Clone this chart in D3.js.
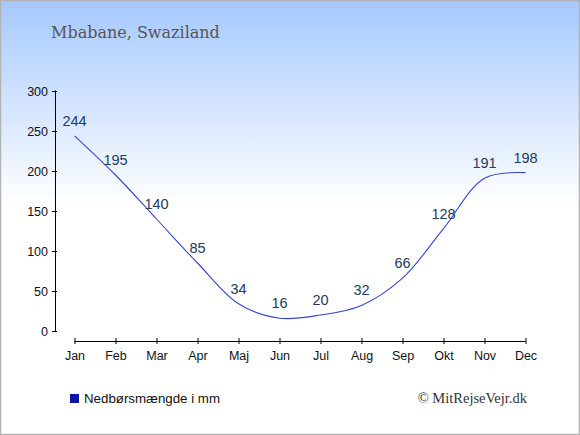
<!DOCTYPE html>
<html>
<head>
<meta charset="utf-8">
<script src="https://cdn.jsdelivr.net/npm/d3@7"></script>
<style>
html,body{margin:0;padding:0;background:#fff;}
svg{display:block;}
</style>
</head>
<body>
<svg id="chart" width="580" height="435"></svg>
<script>
const title = "Mbabane, Swaziland";
const months = ["Jan","Feb","Mar","Apr","Maj","Jun","Jul","Aug","Sep","Okt","Nov","Dec"];
const rainfall = [244,195,140,85,34,16,20,32,66,128,191,198];
const yTicks = [0,50,100,150,200,250,300];
const legendLabel = "Nedbørsmængde i mm";
const credit = "© MitRejseVejr.dk";

const svg = d3.select("#chart");
const W = 580, H = 435;

const defs = svg.append("defs");
const grad = defs.append("linearGradient").attr("id","bg").attr("x1",0).attr("y1",0).attr("x2",0).attr("y2",1);
grad.append("stop").attr("offset","0%").attr("stop-color","#a5c8ff");
grad.append("stop").attr("offset","47%").attr("stop-color","#ffffff");
grad.append("stop").attr("offset","100%").attr("stop-color","#ffffff");

svg.append("rect").attr("x",0).attr("y",0).attr("width",W).attr("height",H).attr("fill","url(#bg)");
svg.append("rect").attr("x",0.5).attr("y",0.5).attr("width",W-1).attr("height",H-1)
  .attr("fill","none").attr("stroke","#b3b3b3").attr("stroke-width",1.5);

svg.append("text").attr("x",51).attr("y",38).text(title)
  .attr("font-family","'DejaVu Serif', serif").attr("font-size",16).attr("fill","#555555");

const x = d3.scalePoint().domain(months).range([74.5,525.5]);
const y = d3.scaleLinear().domain([0,300]).range([331,91]);

const sans = "'Liberation Sans', Arial, sans-serif";

// y axis
const yAxis = svg.append("g").attr("transform","translate(55,0)")
  .call(d3.axisLeft(y).tickValues(yTicks).tickSize(3).tickPadding(5).tickSizeOuter(0));
yAxis.select(".domain").attr("stroke","#000").attr("d","M0.5,90.5V331.5");
yAxis.selectAll(".tick line").attr("x1",-3).attr("x2",2).attr("stroke","#000");
yAxis.selectAll(".tick text").attr("font-family",sans).attr("font-size",12.5).attr("fill","#111").attr("dy","0.35em").attr("x",-7);

// x axis
const xAxis = svg.append("g").attr("transform","translate(0,341)")
  .call(d3.axisBottom(x).tickSize(4).tickPadding(6).tickSizeOuter(0));
xAxis.select(".domain").attr("stroke","#000").attr("d",`M${x("Jan")},0.5H${x("Dec")}`);
xAxis.selectAll(".tick line").attr("y1",-3).attr("y2",3).attr("stroke","#000");
xAxis.selectAll(".tick text").attr("font-family",sans).attr("font-size",12.5).attr("fill","#111");

// line
const line = d3.line().x((d,i)=>x(months[i])).y(d=>y(d)).curve(d3.curveCatmullRom);
svg.append("path").datum(rainfall).attr("d",line).attr("fill","none")
  .attr("stroke","#3545d0").attr("stroke-width",1.1);

// labels
svg.append("g").selectAll("text").data(rainfall).join("text")
  .attr("x",(d,i)=>x(months[i]))
  .attr("y",d=>y(d)-10)
  .attr("text-anchor","middle")
  .attr("font-family",sans).attr("font-size",14.5)
  .attr("fill","#243a5e")
  .text(d=>d);

// legend
svg.append("rect").attr("x",70).attr("y",394).attr("width",9).attr("height",9).attr("fill","#0a14a8");
svg.append("text").attr("x",84).attr("y",403).text(legendLabel)
  .attr("font-family",sans).attr("font-size",13.3).attr("fill","#111");
svg.append("text").attr("x",527).attr("y",403).attr("text-anchor","end").text(credit)
  .attr("font-family","'Liberation Serif', serif").attr("font-size",14.5).attr("fill","#333");
</script>
</body>
</html>
